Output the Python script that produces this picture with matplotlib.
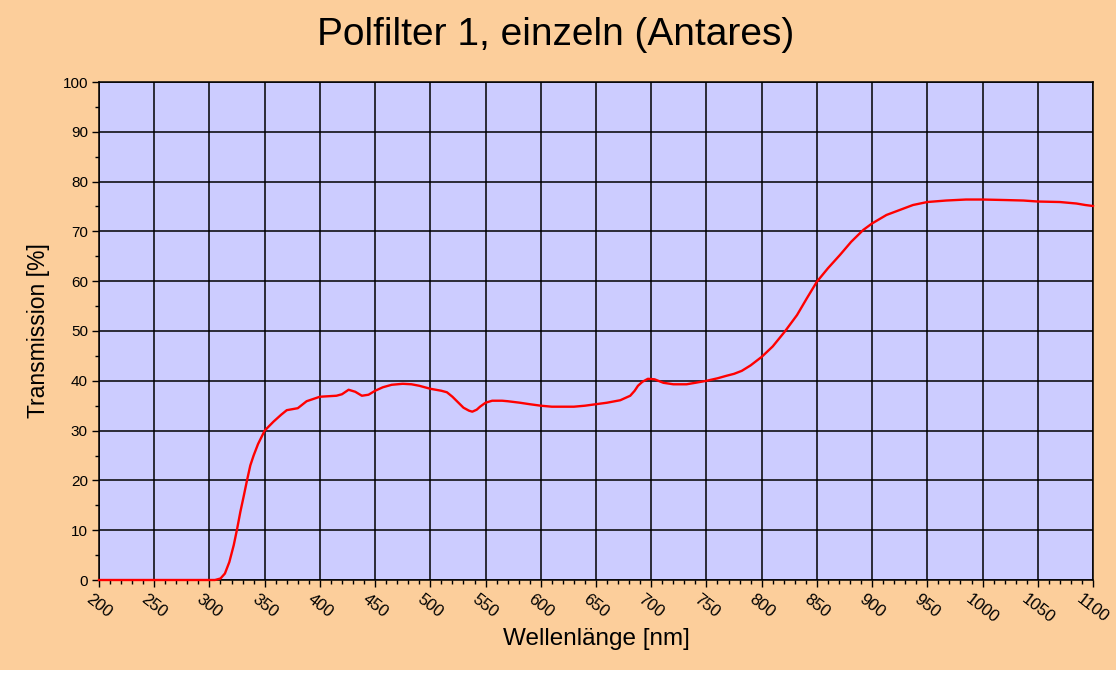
import matplotlib
matplotlib.use("Agg")

import matplotlib.pyplot as plt
from matplotlib.patches import Rectangle
from matplotlib.ticker import MultipleLocator

wellenlaenge = [200, 250, 300, 305, 310, 314, 318, 322, 325, 328, 331, 334, 337, 340, 344,
                350, 358, 365, 370, 380, 388, 400, 415, 420, 426, 432, 438, 444, 450, 457,
                465, 475, 483, 490, 500, 510, 515, 520, 525, 530, 535, 538, 542, 545, 550,
                556, 565, 570, 581, 590, 600, 610, 620, 630, 640, 650, 660, 672, 681, 685,
                688, 692, 697, 703, 711, 720, 732, 740, 750, 760, 768, 775, 782, 790, 800,
                810, 821, 832, 841, 850, 860, 871, 881, 892, 900, 913, 925, 937, 950, 967,
                985, 1000, 1020, 1037, 1050, 1070, 1085, 1093, 1100]
transmission = [0, 0, 0, 0, 0.3, 1.3, 3.6, 7.0, 10.2, 13.7, 16.8, 20.0, 23.0, 25.0, 27.3,
                30.0, 31.8, 33.2, 34.1, 34.5, 35.9, 36.8, 37.0, 37.3, 38.2, 37.8, 37.0, 37.2, 38.0, 38.7,
                39.2, 39.4, 39.3, 39.0, 38.4, 38.0, 37.7, 36.8, 35.7, 34.6, 34.0, 33.8, 34.2, 34.8, 35.6,
                36.0, 36.0, 35.9, 35.6, 35.3, 35.0, 34.8, 34.8, 34.8, 35.0, 35.3, 35.6, 36.1, 37.0, 38.0,
                39.0, 39.8, 40.4, 40.3, 39.6, 39.3, 39.3, 39.6, 40.0, 40.5, 41.0, 41.4, 42.0, 43.1, 44.8,
                46.9, 49.9, 53.2, 56.6, 59.9, 62.6, 65.3, 67.9, 70.3, 71.6, 73.3, 74.3, 75.3, 75.9, 76.2,
                76.4, 76.4, 76.3, 76.2, 76.0, 75.9, 75.6, 75.3, 75.1]

x_ticks = list(range(200, 1101, 50))
y_ticks = list(range(0, 101, 10))

plt.rcParams["font.family"] = ["Liberation Sans", "DejaVu Sans"]

fig = plt.figure(figsize=(11.19, 6.73), dpi=100, facecolor="white")
# Hintergrund (unten/rechts bleibt ein schmaler weisser Rand)
fig.patches.append(Rectangle((0, 3 / 673), 1116 / 1119, 670 / 673, transform=fig.transFigure,
                             facecolor="#FCCE9B", edgecolor="none", zorder=-10))

ax = fig.add_axes([99 / 1119, 1 - 580 / 673, 994 / 1119, 498 / 673])
ax.set_facecolor("#CCCCFF")

ax.plot(wellenlaenge, transmission, color="#FF0000", lw=1.7, zorder=3, clip_on=False)

ax.set_xlim(200, 1100)
ax.set_ylim(0, 100)
ax.set_xticks(x_ticks)
ax.set_yticks(y_ticks)
ax.xaxis.set_minor_locator(MultipleLocator(10))
ax.yaxis.set_minor_locator(MultipleLocator(5))
ax.grid(True, which="major", color="black", lw=1.1)
ax.set_axisbelow(True)

ax.tick_params(which="major", direction="out", length=5, width=1, color="black", labelsize=11, pad=3)
ax.tick_params(which="minor", direction="out", length=3, width=1, color="black")
ax.set_xticklabels([str(v) for v in x_ticks], rotation=-38, ha="center", va="top", fontsize=12)

for s in ax.spines.values():
    s.set_color("black")
    s.set_linewidth(1.1)

ax.set_xlabel("Wellenlänge [nm]", fontsize=17.5, labelpad=2)
ax.set_ylabel("Transmission [%]", fontsize=16.5, labelpad=9)
fig.text(556 / 1119, 1 - 35 / 673, "Polfilter 1, einzeln (Antares)", fontsize=28,
         ha="center", va="center")

fig.savefig("out.png", dpi=100, facecolor=fig.get_facecolor())
